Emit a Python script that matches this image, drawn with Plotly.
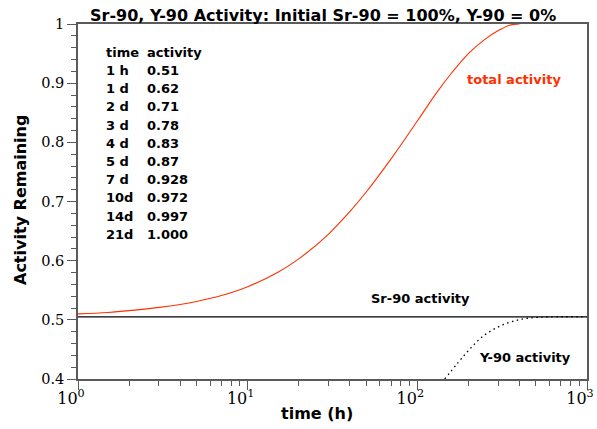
import plotly.graph_objects as go

# Total activity (Sr-90 + Y-90) versus time in hours
total_hours = [1, 1.5, 2, 3, 4, 5, 7, 10, 15, 20, 30, 40, 50, 70, 100, 130, 160, 200,
               250, 300, 350, 400]
total_activity = [0.510, 0.5125, 0.5155, 0.521, 0.526, 0.531, 0.541, 0.556, 0.580, 0.603,
                  0.645, 0.683, 0.716, 0.772, 0.836, 0.884, 0.918, 0.950, 0.974, 0.989,
                  0.998, 1.000]

# Sr-90 parent activity (constant over this time span)
sr_hours = [1, 1000]
sr_activity = [0.505, 0.505]

# Y-90 daughter ingrowth
y_hours = [145, 173, 203, 243, 305, 382, 458, 600, 1000]
y_activity = [0.400, 0.427, 0.450, 0.472, 0.489, 0.499, 0.503, 0.505, 0.505]

# Table of total activity at selected times
table_time = ["1 h", "1 d", "2 d", "3 d", "4 d", "5 d", "7 d", "10d", "14d", "21d"]
table_activity = ["0.51", "0.62", "0.71", "0.78", "0.83", "0.87", "0.928", "0.972", "0.997", "1.000"]

x_tick_vals = [1, 10, 100, 1000]
x_tick_text = ["10<sup>0</sup>", "10<sup>1</sup>", "10<sup>2</sup>", "10<sup>3</sup>"]

RED = "#ff3000"
AXIS = "#5a5a5a"
BOLD = "DejaVu Sans"
SERIF = "DejaVu Serif"

W, H = 597, 429
L, R, T, B = 78, 10, 24, 50
PW, PH = W - L - R, H - T - B


def px(xpix):
    return (xpix - L) / PW


def py(ypix):
    return (H - B - ypix) / PH


fig = go.Figure()
fig.add_trace(go.Scatter(x=sr_hours, y=sr_activity, mode="lines",
                         line=dict(color="black", width=1.2), hoverinfo="skip"))
fig.add_trace(go.Scatter(x=y_hours, y=y_activity, mode="lines",
                         line=dict(color="black", width=1.3, dash="1.5px,3.5px", shape="spline"),
                         hoverinfo="skip"))
fig.add_trace(go.Scatter(x=total_hours, y=total_activity, mode="lines",
                         line=dict(color=RED, width=1.1, shape="spline", smoothing=1.0),
                         hoverinfo="skip"))

annotations = []


def label(text, xpix, ypix, size, color="black", xanchor="center", angle=0):
    annotations.append(dict(text=text, xref="paper", yref="paper", x=px(xpix), y=py(ypix),
                            xanchor=xanchor, yanchor="middle", showarrow=False, textangle=angle,
                            font=dict(family=BOLD, size=size, color=color), borderpad=0))


label("<b>Sr-90, Y-90 Activity: Initial Sr-90 = 100%, Y-90 = 0%</b>", 323, 15.5, 16)
label("<b>Activity Remaining</b>", 20, 200, 16, angle=-90)
label("<b>time (h)</b>", 316.5, 413, 16)
label("<b>total activity</b>", 514.3, 79, 13, color=RED)
label("<b>Sr-90 activity</b>", 420.5, 298, 13)
label("<b>Y-90 activity</b>", 524.8, 357.3, 13)

# activity table
row0, row_step = 52.3, 18.2
label("<b>time</b>", 104.5, row0, 13, xanchor="left")
label("<b>activity</b>", 145.7, row0, 13, xanchor="left")
for i, (tt, aa) in enumerate(zip(table_time, table_activity)):
    yy = row0 + row_step * (i + 1)
    label("<b>%s</b>" % tt, 104.5, yy, 13, xanchor="left")
    label("<b>%s</b>" % aa, 145.7, yy, 13, xanchor="left")

minor_x = [m * 10 ** d for d in range(3) for m in range(2, 10)]

fig.update_xaxes(type="log", range=[0, 3], tickmode="array", tickvals=x_tick_vals,
                 ticktext=x_tick_text, ticks="outside", ticklen=9, tickwidth=1.3,
                 tickcolor=AXIS, showline=True, linecolor=AXIS, linewidth=1.5, mirror=True,
                 showgrid=False, zeroline=False, ticklabeloverflow="allow", automargin=False,
                 ticklabelshift=-7, ticklabelstandoff=-5,
                 tickfont=dict(family=SERIF, size=16, color="black"),
                 minor=dict(tickmode="array", tickvals=minor_x, ticks="outside", ticklen=5,
                            tickwidth=1.1, tickcolor=AXIS, showgrid=False))
fig.update_yaxes(range=[0.4, 1.0], tick0=0, dtick=0.1, ticks="outside", ticklen=9,
                 tickwidth=1.3, tickcolor=AXIS, showline=True, linecolor=AXIS, linewidth=1.5,
                 mirror=True, showgrid=False, zeroline=False, automargin=False,
                 tickfont=dict(family=SERIF, size=14.5, color="black"),
                 minor=dict(dtick=0.02, ticks="outside", ticklen=5, tickwidth=1.1,
                            tickcolor=AXIS, showgrid=False))

fig.update_layout(width=W, height=H, margin=dict(l=L, r=R, t=T, b=B),
                  paper_bgcolor="white", plot_bgcolor="white", showlegend=False,
                  annotations=annotations)

fig.write_html("out.html")
